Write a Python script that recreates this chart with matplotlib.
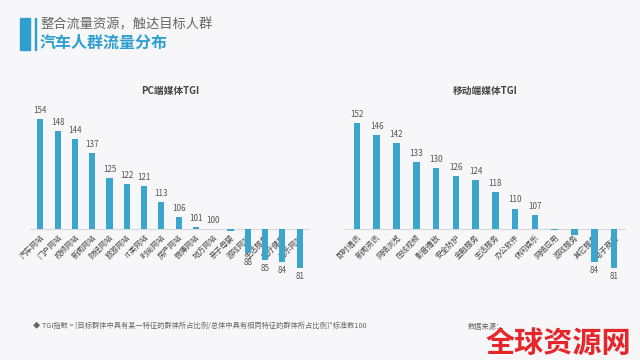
import matplotlib.pyplot as plt
from matplotlib.patches import Rectangle

plt.rcParams['font.family'] = ['Noto Sans CJK SC', 'DejaVu Sans']

# PC端媒体
pc_labels = ['汽车网站', '门户网站', '视频网站', '新闻网站', '财经网站', '旅游网站',
             'IT类网站', '时尚网站', '房产网站', '微博网站', '地方网站', '亲子母婴',
             '游戏网站', '生活服务', '医疗健康', '音乐网站']
pc_values = [154, 148, 144, 137, 125, 122, 121, 113, 106, 101, 100, 99, 88, 85, 84, 81]
pc_shown = [True] * 11 + [False] + [True] * 4

# 移动端媒体
mob_labels = ['即时通讯', '新闻资讯', '网络浏览', '在线视频', '影音播放', '安全防护',
              '金融服务', '生活服务', '办公软件', '休闲娱乐', '网络应用', '游戏服务',
              '其它服务', '电子商务']
mob_values = [152, 146, 142, 133, 130, 126, 124, 118, 110, 107, 99.5, 97, 84, 81]
mob_shown = [True] * 10 + [False, False, True, True]

BASE = 100
BAR = '#3ba5cb'
BG = '#f7f7f9'
W, H = 640, 360

fig = plt.figure(figsize=(6.4, 3.6), dpi=100, facecolor=BG)


def px_axes(x0, y0, x1, y1):
    return fig.add_axes([x0 / W, 1 - y1 / H, (x1 - x0) / W, (y1 - y0) / H])


def tgi_panel(ax, labels, values, shown, title, width):
    ax.set_facecolor('none')
    n = len(values)
    xs = range(n)
    ax.bar(xs, [v - BASE for v in values], bottom=BASE, width=width, color=BAR, zorder=2)
    ax.axhline(BASE, color='#d8d8d8', lw=0.8, zorder=1)
    for x, v, s in zip(xs, values, shown):
        if not s:
            continue
        if v >= BASE:
            ax.text(x, v + 2, f'{v:g}', ha='center', va='bottom', fontsize=5.8,
                    color='#555555')
        else:
            ax.text(x, v - 2, f'{v:g}', ha='center', va='top', fontsize=5.8,
                    color='#555555')
    ax.set_xlim(-0.6, n - 0.4)
    ax.set_ylim(70.1, 163.2)
    for side in ['top', 'right', 'left']:
        ax.spines[side].set_visible(False)
    ax.spines['bottom'].set_position(('data', BASE))
    ax.spines['bottom'].set_visible(False)
    ax.set_yticks([])
    ax.set_xticks(list(xs))
    ax.set_xticklabels(labels, rotation=45, ha='right', rotation_mode='anchor',
                       fontsize=5.5, color='#444444')
    ax.tick_params(axis='x', length=0, pad=3)
    ax.set_title(title, fontsize=7, fontweight='bold', color='#444444', pad=0, y=1.03)


ax1 = px_axes(30, 100, 310, 290)
tgi_panel(ax1, pc_labels, pc_values, pc_shown, 'PC端媒体TGI', 0.36)

ax2 = px_axes(345, 100, 626, 290)
tgi_panel(ax2, mob_labels, mob_values, mob_shown, '移动端媒体TGI', 0.33)

# header
fig.patches.append(Rectangle((20 / W, 1 - 50 / H), 10 / W, 32 / H,
                             transform=fig.transFigure, color='#2e9fcf'))
fig.patches.append(Rectangle((35 / W, 1 - 50 / H), 1 / W, 32 / H,
                             transform=fig.transFigure, color='#2e9fcf'))
fig.text(40 / W, 1 - 25 / H, '整合流量资源，触达目标人群', fontsize=9.5,
         color='#666666', va='center')
fig.text(40 / W, 1 - 43 / H, '汽车人群流量分布', fontsize=11.5, fontweight='bold',
         color='#2e9fcf', va='center')

# footer
fig.text(33 / W, 1 - 326 / H,
         '◆ TGI指数 = [目标群体中具有某一特征的群体所占比例/总体中具有相同特征的群体所占比例]*标准数100',
         fontsize=5.2, color='#666666', va='center')
fig.text(468 / W, 1 - 327 / H, '数据来源：', fontsize=5.2, color='#666666', va='center')
fig.text(486 / W, 1 - 343 / H, '全球资源网', fontsize=21, fontweight='bold',
         color='#e5262b', va='center')

fig.savefig('out.png', dpi=100, facecolor=BG)
